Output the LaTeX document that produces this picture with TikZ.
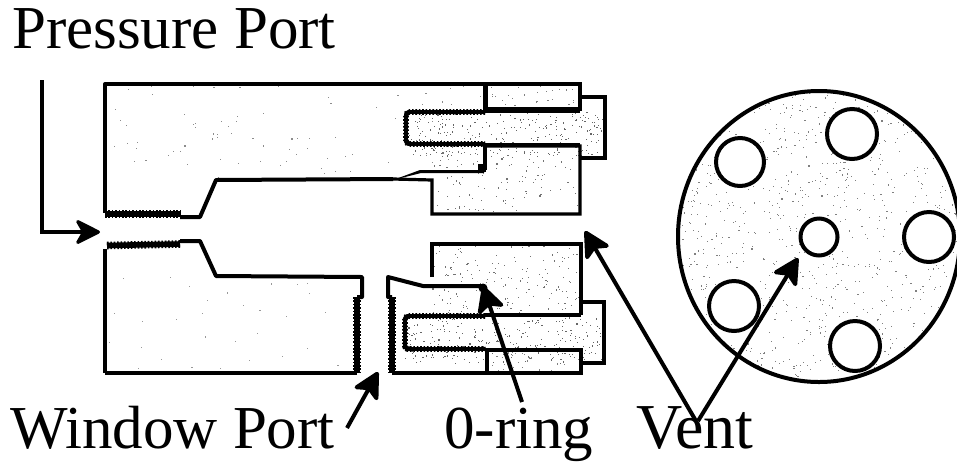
\documentclass[tikz,border=0pt]{standalone}
\usepackage{fontspec}
\setmainfont{Liberation Serif}
\usetikzlibrary{arrows.meta}
\tikzset{
  x=1pt,y=-1pt,
  body/.style={line width=4pt,line join=round,black},
  thin block/.style={line width=3.2pt,line join=miter,black},
  thread/.style={line width=5.6pt,black,postaction={draw,line width=7.6pt,dash pattern=on 1.6pt off 1.8pt}},
  bolt thread/.style={line width=3.8pt,black,line join=round,postaction={draw,line width=5.6pt,dash pattern=on 1.6pt off 1.8pt}},
  label/.style={anchor=base west,inner sep=0pt,font=\fontsize{61}{61}\selectfont},
  bigarrow/.style={line width=4pt,-{Stealth[length=30pt,width=31pt,inset=7pt,round]}},
  hole/.style={draw=black,fill=white,line width=4pt,circle,inner sep=0pt}
}
\newcommand{\stipple}[7]{% path, n, x0, y0, w, h, gray
  \begin{scope}
    \clip #1;
    \foreach \i in {1,...,#2}{
      \pgfmathsetmacro{\px}{#3+#5*rnd}
      \pgfmathsetmacro{\py}{#4+#6*rnd}
      \fill[black!#7] (\px,\py) rectangle ++(1.1,1.1);
    }
  \end{scope}
}
\begin{document}
\begin{tikzpicture}
\useasboundingbox (0,0) rectangle (957,467);
\pgfmathsetseed{4242}
\fill[white] (0,0) rectangle (957,467);
% stipple
\stipple{(105,84) rectangle (486,213)}{90}{105}{84}{381}{96}{45}
\stipple{(486,83) rectangle (580,109)}{35}{486}{83}{94}{26}{50}
\stipple{(406,112) rectangle (604,158)}{260}{406}{112}{198}{44}{60}
\stipple{(432,146) rectangle (580,214)}{120}{432}{146}{148}{68}{55}
\stipple{(105,247) rectangle (357,373)}{30}{105}{277}{252}{96}{40}
\stipple{(432,244) rectangle (581,314)}{170}{432}{244}{149}{70}{55}
\stipple{(405,316) rectangle (604,363)}{260}{405}{316}{199}{47}{60}
\stipple{(487,350) rectangle (581,373)}{30}{487}{350}{94}{23}{50}
\stipple{(819,236.5) ellipse [x radius=141,y radius=145.5]}{1000}{678}{91}{279}{291}{50}

% upper housing
\draw[body] (486,84) -- (105,84) -- (105,213);
\draw[body] (180,217) -- (200,217) -- (216,180) -- (393,179);
\draw[thread] (105,214) -- (180,214);
\draw[thin block] (393,179) -- (432,180) -- (432,214) -- (580,214) -- (580,146) -- (485,146);
\fill[black] (393,180) -- (420,170) -- (484,170) -- (484,173) -- (421,173) -- cycle;
\draw[body] (485,84) -- (485,110);
\draw[body] (485,145) -- (485,170);
\fill[black] (478,164) rectangle (486,172);
\draw[thin block] (486,84) rectangle (580,109);
\draw[thin block] (580,97) -- (605,97) -- (605,158) -- (580,158);
\draw[bolt thread] (485,112) -- (408,112) -- (406,114) -- (406,142) -- (408,144) -- (485,144);
\draw[thin block] (485,111) -- (580,111);
\draw[thin block] (485,145) -- (580,145);

% lower housing
\draw[body] (105,373) -- (105,249);
\draw[thread] (107,245.5) -- (180,244);
\draw[body] (180,241) -- (200,241) -- (216,276) -- (362,277) -- (362,297) -- (357,297);
\draw[thread] (357,297) -- (357,372);
\draw[body] (105,373) -- (357,373);
\draw[body] (392,297) -- (388,297) -- (388,277) -- (423,286) -- (483,286);
\draw[thread] (392,297) -- (392,372);
\draw[body] (392,373) -- (487,373) -- (487,350);
\fill[black] (483,288) circle (4.5);
\draw[thin block] (432,277) -- (432,244) -- (581,244) -- (581,315);
\draw[thin block] (581,302) -- (604,302) -- (604,363) -- (581,363);
\draw[bolt thread] (485,316) -- (407,316) -- (405,318) -- (405,347) -- (407,349) -- (485,349);
\draw[thin block] (485,315) -- (581,315);
\draw[thin block] (485,350) -- (581,350) -- (581,373) -- (487,373);

% end view
\draw[line width=4pt,black] (819,236.5) ellipse [x radius=141,y radius=145.5];
\node[hole,minimum size=48pt] (h1) at (740,162) {};
\node[hole,minimum size=50pt] (h2) at (852,134) {};
\node[hole,minimum size=50pt] (h3) at (929,237) {};
\node[hole,minimum size=50pt] (h4) at (855,346) {};
\node[hole,minimum size=50pt] (h5) at (734,306) {};
\node[hole,minimum size=37pt] (vent) at (819,237) {};

% labels
\node[label] (pp) at (12,48) {Pressure Port};
\node[label] (wp) at (10,448) {Window Port};
\node[label] (or) at (444,448) {0-ring};
\node[label] (vt) at (636,448) {\fontsize{64}{64}\selectfont Vent};

% arrows
\coordinate (a0) at (42,80);
\coordinate (a1) at (42,232);
\coordinate (a2) at (100,232);
\draw[line width=3.2pt,-{Stealth[length=28pt,width=28pt,inset=8pt,round]}] (a0) -- (a1) -- (a2);
\coordinate (wt) at (347,428);
\coordinate (wh) at (378,372);
\draw[bigarrow] (wt) -- (wh);
\coordinate (ot) at (522,402);
\coordinate (oh) at (483,286);
\draw[bigarrow] (ot) -- (oh);
\coordinate (vt1) at (696,421);
\coordinate (vh1) at (585,231);
\draw[bigarrow] (vt1) -- (vh1);
\coordinate (vt2) at (698,421);
\coordinate (vh2) at (798,258);
\draw[bigarrow] (vt2) -- (vh2);
\end{tikzpicture}
\end{document}
